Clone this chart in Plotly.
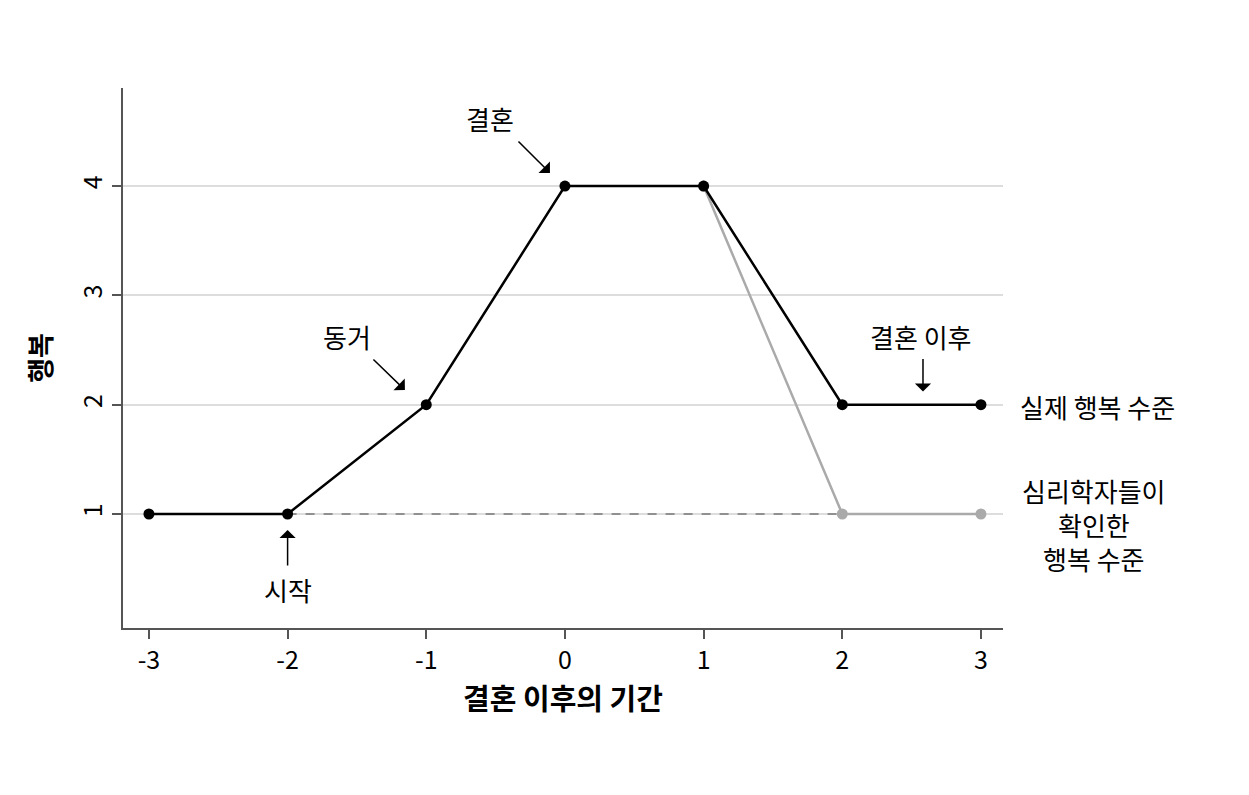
import plotly.graph_objects as go

# ---- data ----
periods = [-3, -2, -1, 0, 1, 2, 3]
actual_happiness = [1, 1, 2, 4, 4, 2, 2]
perceived_x = [1, 2, 3]
perceived_happiness = [4, 1, 1]
baseline_x = [-2, 2]
baseline_y = [1, 1]
x_ticks = [-3, -2, -1, 0, 1, 2, 3]
y_ticks = [1, 2, 3, 4]

FONT = "Noto Sans CJK KR"
AXIS_COLOR = "#555555"
LABEL_SIZE = 26

fig = go.Figure()

fig.add_trace(go.Scatter(
    x=baseline_x, y=baseline_y, mode="lines",
    line=dict(color="#777777", width=1.5, dash="dash"),
    showlegend=False, hoverinfo="skip"))

fig.add_trace(go.Scatter(
    x=perceived_x, y=perceived_happiness, mode="lines+markers",
    line=dict(color="#aaaaaa", width=2.5),
    marker=dict(color="#aaaaaa", size=11),
    showlegend=False))

fig.add_trace(go.Scatter(
    x=periods, y=actual_happiness, mode="lines+markers",
    line=dict(color="black", width=2.5),
    marker=dict(color="black", size=11),
    showlegend=False))

annotations = []

def arrow(x, y, ax, ay):
    annotations.append(dict(
        x=x, y=y, xref="x", yref="y", ax=ax, ay=ay, text="",
        showarrow=True, arrowhead=1, arrowsize=1.8, arrowwidth=1.5,
        arrowcolor="black"))

def label(x, y, text, size=LABEL_SIZE):
    annotations.append(dict(
        x=x, y=y, xref="x", yref="y", text=text, showarrow=False,
        font=dict(family=FONT, size=size, color="black"),
        xanchor="center", yanchor="middle"))

# 결혼
arrow(-0.108, 4.12, -33, -33)
label(-0.54, 4.62, "결혼")
# 동거
arrow(-1.154, 2.134, -33, -32)
label(-1.57, 2.62, "동거")
# 결혼 이후
arrow(2.582, 2.12, 0, -34)
label(2.565, 2.62, "결혼 이후")
# 시작
arrow(-2.0, 0.854, 0, 37)
label(-2.0, 0.305, "시작")

# plot area in page pixels: x 123..1003 (880 px), y 88..628 (540 px)
def to_paper(pxx, pyy):
    return (pxx - 123) / 880.0, (628 - pyy) / 540.0

for (pxx, pyy, t) in [(1097, 406, "실제 행복 수준"),
                      (1094, 490, "심리학자들이"),
                      (1094, 524, "확인한"),
                      (1094, 558, "행복 수준")]:
    a, b = to_paper(pxx, pyy)
    annotations.append(dict(
        x=a, y=b, xref="paper", yref="paper", text=t, showarrow=False,
        font=dict(family=FONT, size=LABEL_SIZE, color="black"),
        xanchor="center", yanchor="middle"))

# body has an 8px default margin, so offset margins accordingly
fig.update_layout(
    width=1249, height=795,
    margin=dict(l=115, r=254, t=80, b=175),
    paper_bgcolor="white", plot_bgcolor="white",
    font=dict(family=FONT, color="black"),
    annotations=annotations,
    showlegend=False,
)

fig.update_xaxes(
    range=[-3.187, 3.159], tickvals=x_ticks, ticktext=[str(v) for v in x_ticks],
    showgrid=False, zeroline=False,
    showline=True, linecolor=AXIS_COLOR, linewidth=2,
    ticks="outside", ticklen=9, tickwidth=2, tickcolor=AXIS_COLOR,
    tickfont=dict(family=FONT, size=25, color="black"),
    title=dict(text="<b>결혼 이후의 기간</b>", font=dict(family=FONT, size=29, color="black"),
               standoff=8),
)

fig.update_yaxes(
    range=[-0.043, 4.897], tickvals=y_ticks, ticktext=[str(v) for v in y_ticks],
    showgrid=True, gridcolor="#dddddd", gridwidth=1.5, zeroline=False,
    showline=True, linecolor=AXIS_COLOR, linewidth=2,
    ticks="outside", ticklen=9, tickwidth=2, tickcolor=AXIS_COLOR,
    tickangle=-90,
    tickfont=dict(family=FONT, size=25, color="black"),
    title=dict(text="<b>행복</b>", font=dict(family=FONT, size=27, color="black"),
               standoff=14),
)

fig.write_html("out.html")
